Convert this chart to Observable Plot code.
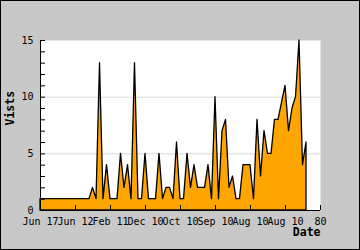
<!DOCTYPE html>
<html><head><meta charset="utf-8">
<script src="https://cdn.jsdelivr.net/npm/d3@7"></script>
<script src="https://cdn.jsdelivr.net/npm/@observablehq/plot@0.6"></script>
<style>
html,body{margin:0;padding:0;background:#c8c8c8;}
#chart svg{display:block;outline:1px solid #000;outline-offset:-1px;}
</style></head><body><div id="chart"></div>
<script>
const xTickValues = [0, 10, 20, 30, 40, 50, 60, 70, 80];
const xTickLabels = ["Jun 17", "Jun 12", "Feb 11", "Dec 10", "Oct 10", "Sep 10", "Aug 10", "Aug 10", "80"];
const yTickValues = [0, 5, 10, 15];
const yMinorTicks = [0, 1, 2, 3, 4, 5, 6, 7, 8, 9, 10, 11, 12, 13, 14, 15];
const yGridValues = [5, 10];
const periods = [0,1,2,3,4,5,6,7,8,9,10,11,12,13,14,15,16,17,18,19,20,21,22,23,24,25,26,27,28,29,30,31,32,33,34,35,36,37,38,39,40,41,42,43,44,45,46,47,48,49,50,51,52,53,54,55,56,57,58,59,60,61,62,63,64,65,66,67,68,69,70,71,72,73,74,75,76];
const visits = [1,1,1,1,1,1,1,1,1,1,1,1,1,1,1,
  2,1,13,1,4, 1,1,1,5,2, 4,1,13,1,1, 5,1,1,1,5, 1,2,2,1,6,
  1,1,5,2,4, 2,2,2,4,1, 10,1,7,8,2, 3,1,1,4,4, 4,1,8,3,7,
  5,5,8,8,9.5, 11,7,9,10,15, 4,6];

const data = periods.map((p, i) => ({p, v: visits[i]}));

const chart = Plot.plot({
  width: 360, height: 250,
  marginLeft: 40, marginRight: 40, marginTop: 40, marginBottom: 40,
  style: {background: "#c8c8c8", fontFamily: "DejaVu Sans Mono", fontSize: "10px", color: "#000"},
  x: {domain: [0, 80]},
  y: {domain: [0, 15]},
  marks: [
    Plot.frame({fill: "white", stroke: "none"}),
    Plot.ruleY(yGridValues, {stroke: "#d8d8d8"}),
    Plot.areaY(data, {x: "p", y: "v", fill: "#ffa500", stroke: "#000", strokeWidth: 1.3}),
    Plot.ruleX([0], {stroke: "#000"}),
    Plot.ruleY([0], {stroke: "#000"}),
    Plot.axisY({ticks: yMinorTicks, tickSize: -5, tickFormat: () => "", label: null, stroke: "#000"}),
    Plot.axisY({ticks: yTickValues, tickSize: 0, tickPadding: 7, label: null, fill: "#000"}),
    Plot.axisX({ticks: xTickValues, tickSize: -5, tickFormat: () => "", label: null, stroke: "#000"}),
    Plot.axisX({ticks: xTickValues, tickSize: 0, tickPadding: 7, label: null, fill: "#000",
      tickFormat: d => xTickLabels[xTickValues.indexOf(d)]}),
    Plot.text(["Vists"], {frameAnchor: "left", rotate: -90, dx: -30, fontWeight: "bold", fontSize: 11.5, fill: "#000"}),
    Plot.text(["Date"], {frameAnchor: "bottom-right", textAnchor: "end", dy: 25.6, fontWeight: "bold", fontSize: 11.5, fill: "#000"})
  ]
});
document.getElementById("chart").appendChild(chart);
</script></body></html>
